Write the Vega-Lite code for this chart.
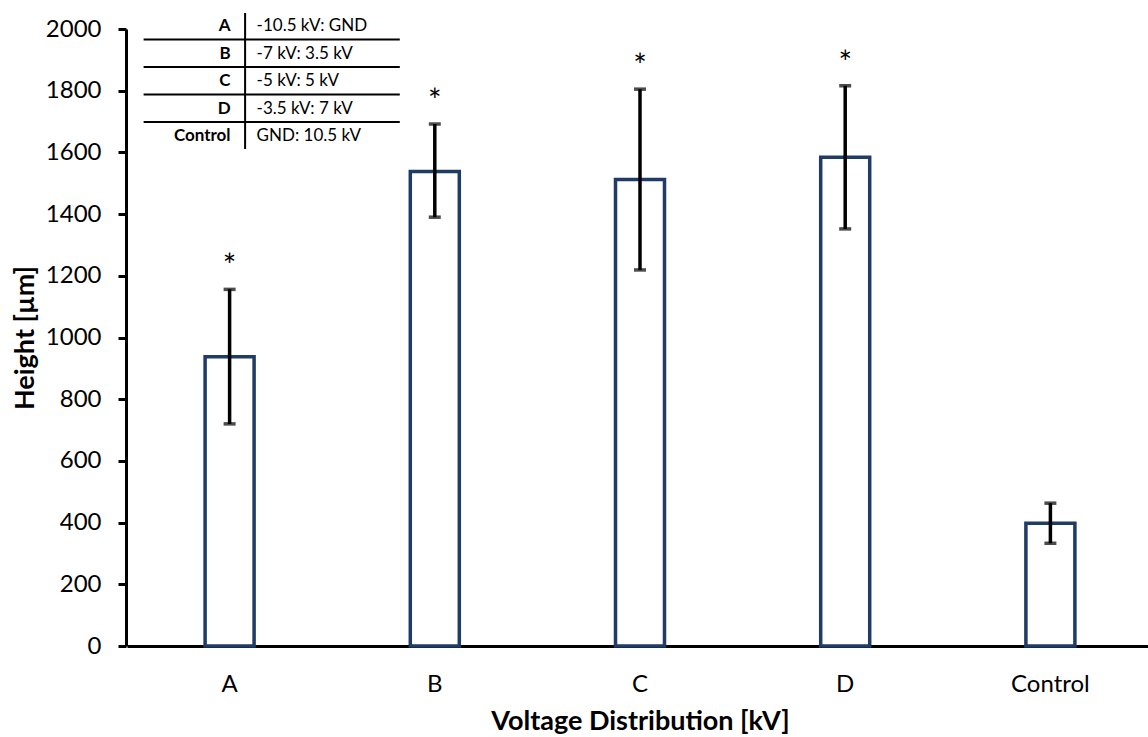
{
  "$schema": "https://vega.github.io/schema/vega-lite/v6.json",
  "width": 1022,
  "height": 617,
  "autosize": {"type": "none"},
  "padding": {"left": 126, "top": 29, "right": 0, "bottom": 91},
  "background": "white",
  "config": {
    "view": {"stroke": null},
    "font": "Lato",
    "text": {"font": "Lato"}
  },
  "datasets": {
    "bars": [
      {"group": "A", "height": 938, "low": 720, "high": 1156, "sig": "*"},
      {"group": "B", "height": 1538, "low": 1390, "high": 1692, "sig": "*"},
      {"group": "C", "height": 1512, "low": 1219, "high": 1805, "sig": "*"},
      {"group": "D", "height": 1584, "low": 1352, "high": 1816, "sig": "*"},
      {"group": "Control", "height": 398, "low": 333, "high": 463, "sig": ""}
    ],
    "table": [
      {"key": "A", "desc": "-10.5 kV: GND"},
      {"key": "B", "desc": "-7 kV: 3.5 kV"},
      {"key": "C", "desc": "-5 kV: 5 kV"},
      {"key": "D", "desc": "-3.5 kV: 7 kV"},
      {"key": "Control", "desc": "GND: 10.5 kV"}
    ]
  },
  "encoding": {
    "x": {
      "field": "group",
      "type": "nominal",
      "sort": ["A", "B", "C", "D", "Control"],
      "scale": {"domain": ["A", "B", "C", "D", "Control"], "range": [1, 1027], "paddingInner": 0, "paddingOuter": 0},
      "axis": {
        "title": "Voltage Distribution [kV]",
        "labelAngle": 0,
        "labelFontSize": 24,
        "labelColor": "black",
        "labelPadding": 26,
        "ticks": false,
        "domainColor": "black",
        "domainWidth": 3,
        "titleFontSize": 27,
        "titleFontWeight": "bold",
        "titleColor": "black",
        "titlePadding": 12
      }
    }
  },
  "layer": [
    {
      "data": {"name": "bars"},
      "encoding": {
        "y": {
          "type": "quantitative",
          "scale": {"domain": [0, 2000]}
        }
      },
      "layer": [
        {
          "mark": {"type": "bar", "size": 49, "fill": "white", "stroke": "#1F3B66", "strokeWidth": 3.5},
          "encoding": {
            "y": {
              "field": "height",
              "type": "quantitative",
              "scale": {"domain": [0, 2000]},
              "axis": {
                "title": "Height [µm]",
                "values": [0, 200, 400, 600, 800, 1000, 1200, 1400, 1600, 1800, 2000],
                "format": "d",
                "grid": false,
                "labelFontSize": 24,
                "labelColor": "black",
                "labelPadding": 17,
                "tickSize": 8,
                "tickWidth": 3,
                "tickColor": "black",
                "domainColor": "black",
                "domainWidth": 3,
                "titleFontSize": 27,
                "titleFontWeight": "bold",
                "titleColor": "black",
                "titlePadding": 6
              }
            }
          }
        },
        {
          "mark": {"type": "rule", "color": "black", "strokeWidth": 3.5},
          "encoding": {
            "y": {"field": "low", "type": "quantitative"},
            "y2": {"field": "high"}
          }
        },
        {
          "mark": {"type": "tick", "color": "black", "thickness": 3.5, "size": 12, "orient": "horizontal"},
          "encoding": {
            "y": {"field": "low", "type": "quantitative"}
          }
        },
        {
          "mark": {"type": "tick", "color": "black", "thickness": 3.5, "size": 12, "orient": "horizontal"},
          "encoding": {
            "y": {"field": "high", "type": "quantitative"}
          }
        },
        {
          "mark": {"type": "text", "fontSize": 32, "color": "black", "baseline": "middle", "dy": -22},
          "encoding": {
            "y": {"field": "high", "type": "quantitative"},
            "text": {"field": "sig"}
          }
        }
      ]
    },
    {
      "data": {"name": "table"},
      "encoding": {
        "y": {
          "field": "key",
          "type": "ordinal",
          "scale": {"type": "point", "domain": ["A", "B", "C", "D", "Control"], "range": [-3, 107], "padding": 0},
          "axis": null
        }
      },
      "layer": [
        {
          "mark": {"type": "text", "fontSize": 17, "fontWeight": "bold", "color": "black", "align": "right", "baseline": "middle", "dx": 1},
          "encoding": {
            "x": {"datum": "A"},
            "text": {"field": "key"}
          }
        },
        {
          "mark": {"type": "text", "fontSize": 17, "color": "black", "align": "left", "baseline": "middle", "dx": 27},
          "encoding": {
            "x": {"datum": "A"},
            "text": {"field": "desc"}
          }
        },
        {
          "transform": [{"filter": "datum.key !== 'Control'"}],
          "mark": {"type": "rule", "color": "black", "strokeWidth": 2, "yOffset": 13.5, "xOffset": -86, "x2Offset": -35},
          "encoding": {
            "x": {"datum": "A"},
            "x2": {"datum": "B"}
          }
        },
        {
          "transform": [{"filter": "datum.key === 'A'"}],
          "mark": {"type": "rule", "color": "black", "strokeWidth": 2, "xOffset": 15.5, "yOffset": -13, "y2Offset": 13},
          "encoding": {
            "x": {"datum": "A"},
            "y2": {"datum": "Control"}
          }
        }
      ]
    }
  ],
  "resolve": {"scale": {"y": "independent"}}
}
